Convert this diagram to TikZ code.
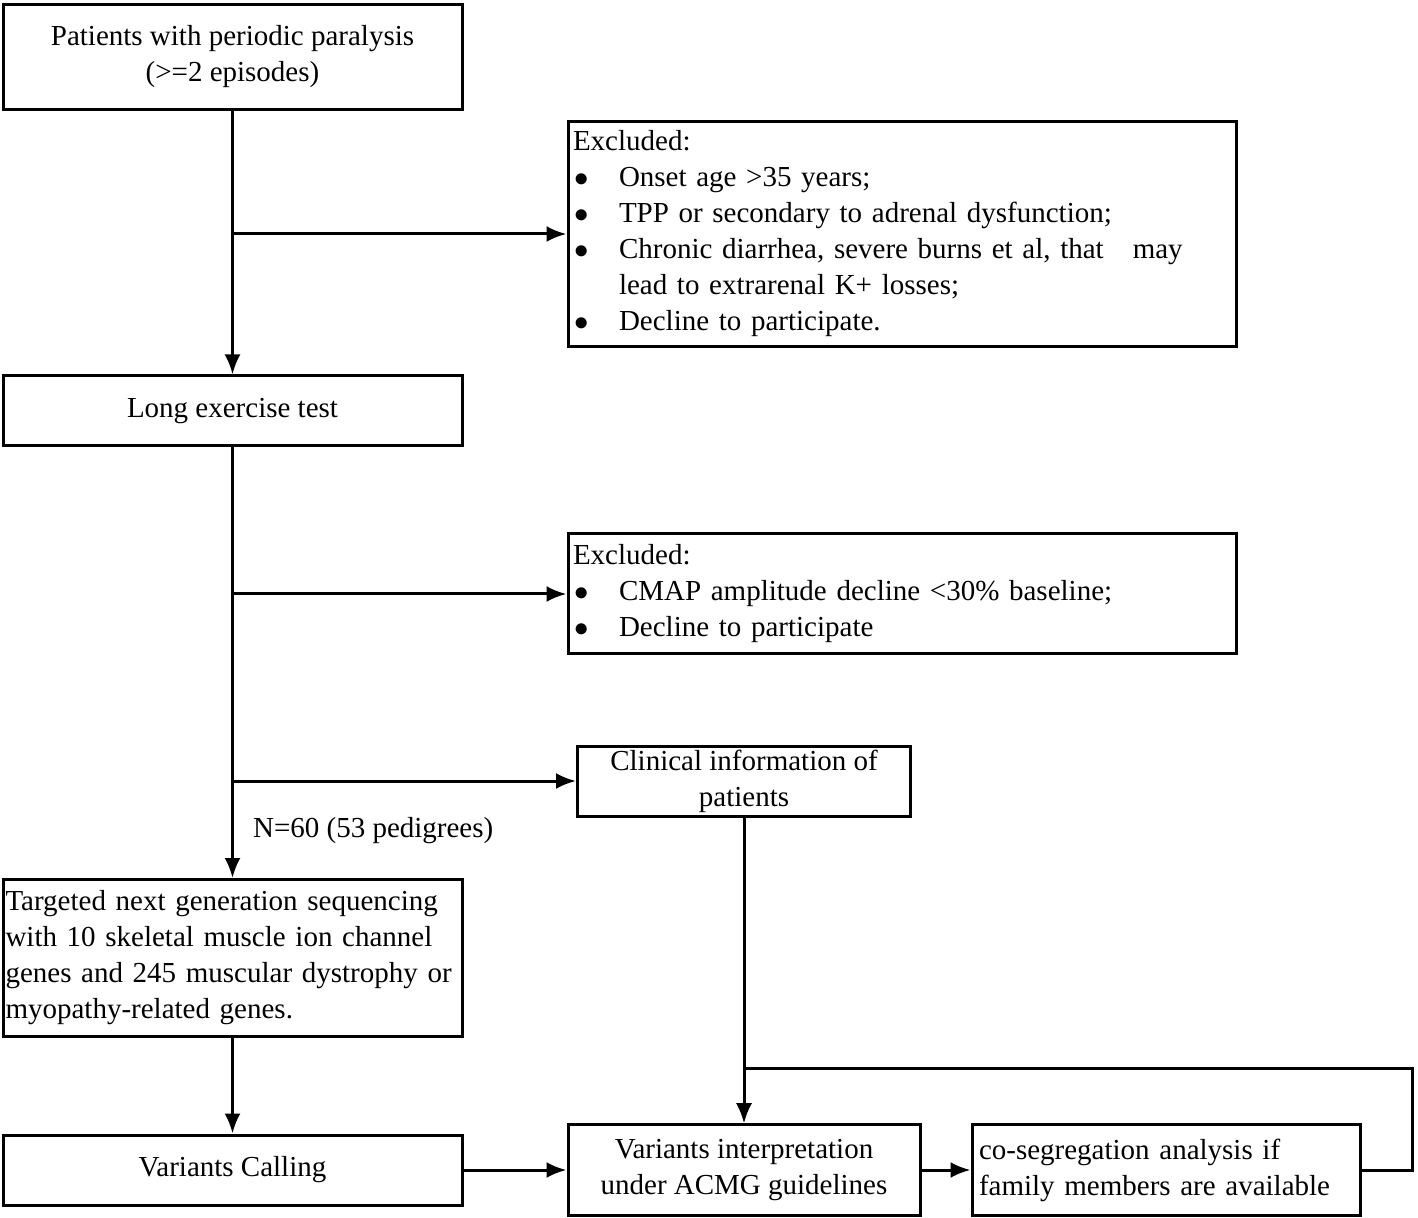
\documentclass[tikz,border=0pt]{standalone}
\usepackage{fontspec}
\setmainfont{Liberation Serif}
\usetikzlibrary{calc}
\usetikzlibrary{arrows.meta,positioning}
\tikzstyle{box}=[draw, line width=1.5pt, inner sep=0pt, align=center, font=\fontsize{14.5pt}{18pt}\selectfont]
\tikzstyle{lbox}=[box, align=left, inner xsep=2.5pt]
\tikzstyle{arr}=[->, >={Latex[length=10pt,width=8pt]}, line width=1.5pt]
\newcommand{\bul}{\hspace*{0.5pt}\makebox[22.5pt][l]{$\bullet$}}
\newcommand{\ind}{\hspace*{23pt}}

\begin{document}
\begin{tikzpicture}[x=0.5pt, y=-0.5pt]
\useasboundingbox (0,0) rectangle (1418,1218);
%\draw[help lines] (0,0) grid[step=100] (1418,1218);
\node[box, minimum width=229.5pt, minimum height=52.5pt] (pat) at (232.5,57)
  {Patients with periodic paralysis\\(>=2 episodes)};
\node[lbox, text width=329pt, minimum height=112.5pt] (exc1) at (902,234)
  {Excluded:\\
   \bul Onset age >35 years;\\
   \bul TPP or secondary to adrenal dysfunction;\\
   \bul Chronic diarrhea, severe burns et al, that\ \ \ may\\
   \ind lead to extrarenal K+ losses;\\
   \bul Decline to participate.};
\node[box, minimum width=229.5pt, minimum height=35pt] (long) at (232.5,411) {Long exercise test};
\node[lbox, text width=329pt, minimum height=60pt] (exc2) at (902,594)
  {Excluded:\\
   \bul CMAP amplitude decline <30\% baseline;\\
   \bul Decline to participate};
\node[box, minimum width=166.5pt, minimum height=35pt] (clin) at (744,781)
  {Clinical information of\\patients};
\node[anchor=west, font=\fontsize{14.5pt}{18pt}\selectfont] (num) at (246,831) {N=60 (53 pedigrees)};
\node[lbox, text width=227pt, inner xsep=1.25pt, minimum height=78.5pt] (targ) at (232.5,958)
  {Targeted next generation sequencing\\
   with 10 skeletal muscle ion channel\\
   genes and 245 muscular dystrophy or\\
   myopathy-related genes.};
\node[box, minimum width=229.5pt, minimum height=35pt] (call) at (232.5,1170) {Variants Calling};
\node[box, minimum width=176pt, minimum height=45.5pt] (interp) at (744,1170)
  {Variants interpretation\\under ACMG guidelines};
\node[lbox, text width=187pt, inner xsep=3.5pt, minimum height=45.5pt] (coseg) at (1166,1170)
  {co-segregation analysis if\\family members are available};

\coordinate (fr) at (1412,1170);
\coordinate (ft) at (1412,1068);

\draw[arr] (pat) -- (long);
\draw[arr] (pat.south |- exc1.west) -- (exc1.west);
\draw[arr] (long) -- (targ);
\draw[arr] (long.south |- exc2.west) -- (exc2.west);
\draw[arr] (long.south |- clin.west) -- (clin.west);
\draw[arr] (targ) -- (call);
\draw[arr] (call) -- (interp);
\draw[arr] (interp) -- (coseg);
\draw[arr] (clin) -- (interp);
\draw[arr] (coseg.east) -- (fr) -- (ft) -- (ft -| interp.north) -- (interp.north);

\end{tikzpicture}
\end{document}
